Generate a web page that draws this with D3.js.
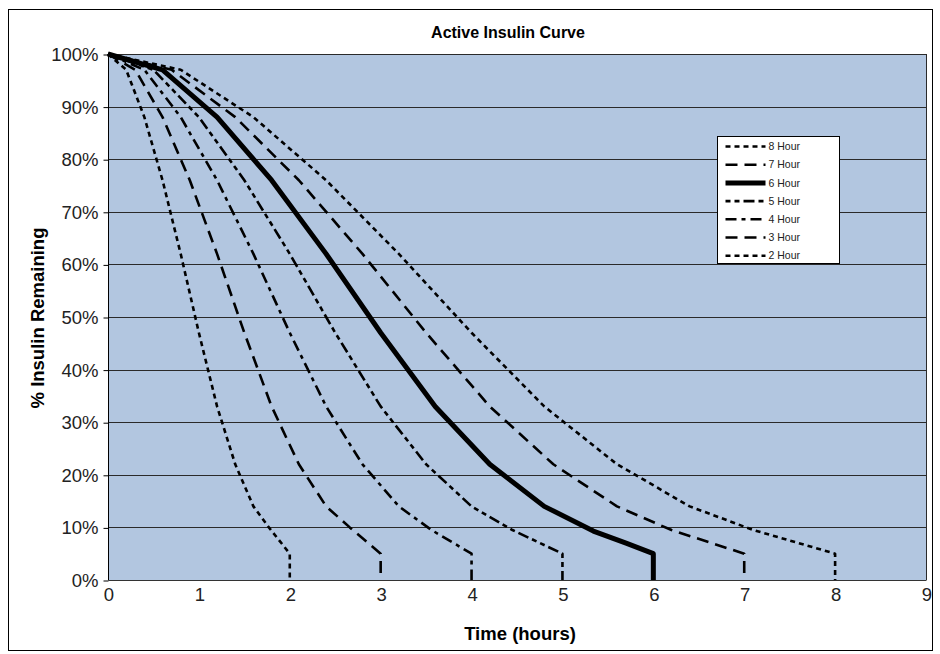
<!DOCTYPE html>
<html>
<head>
<meta charset="utf-8">
<script src="https://cdn.jsdelivr.net/npm/d3@7"></script>
<style>
  body { margin: 0; background: #fff; }
  svg { font-family: "Liberation Sans", Arial, sans-serif; }
</style>
</head>
<body>
<div id="chart"></div>
<script>
// curve points: [hours, % remaining]
const curve8 = [[0,100],[0.8,97],[1.6,88],[2.4,76],[3.2,62],[4.0,47],[4.8,33],[5.6,22],[6.4,14],[7.1,9.5],[8,5],[8,0]];
const curve7 = [[0,100],[0.7,97],[1.4,88],[2.1,76],[2.8,62],[3.5,47],[4.2,33],[4.9,22],[5.6,14],[6.2,9.5],[7,5],[7,0]];
const curve6 = [[0,100],[0.6,97],[1.2,88],[1.8,76],[2.4,62],[3.0,47],[3.6,33],[4.2,22],[4.8,14],[5.34,9.3],[5.7,7],[6,5],[6,0]];
const curve5 = [[0,100],[0.5,97],[1.0,88],[1.5,76],[2.0,62],[2.5,47],[3.0,33],[3.5,22],[4.0,14],[4.45,9.5],[5,5],[5,0]];
const curve4 = [[0,100],[0.4,97],[0.8,88],[1.2,76],[1.6,62],[2.0,47],[2.4,33],[2.8,22],[3.2,14],[3.56,9.5],[4,5],[4,0]];
const curve3 = [[0,100],[0.3,97],[0.6,88],[0.9,76],[1.2,62],[1.5,47],[1.8,33],[2.1,22],[2.4,14],[2.66,10],[3,5],[3,0]];
const curve2 = [[0,100],[0.2,97],[0.4,88],[0.6,76],[0.8,62],[1.0,47],[1.2,33],[1.4,22],[1.6,14],[1.77,10],[2,5],[2,0]];

const seriesNames = ["8 Hour", "7 Hour", "6 Hour", "5 Hour", "4 Hour", "3 Hour", "2 Hour"];
const seriesData = [curve8, curve7, curve6, curve5, curve4, curve3, curve2];
const seriesDash = ["5,4", "12,7", null, "5,4,5,4,11,4", "11,5,4,5", "12,7", "5,4"];
const seriesWidth = [2.6, 2.6, 5, 2.6, 2.6, 2.6, 2.6];

const xTicks = [0, 1, 2, 3, 4, 5, 6, 7, 8, 9];
const yTicks = [0, 10, 20, 30, 40, 50, 60, 70, 80, 90, 100];

function draw() {
  const width = 940, height = 654;
  const plot = { left: 108, right: 926, top: 54, bottom: 580 };

  const svg = d3.select("#chart").append("svg")
    .attr("width", width)
    .attr("height", height);

  // outer frame
  svg.append("rect")
    .attr("x", 8.5).attr("y", 9.5)
    .attr("width", 924).attr("height", 641)
    .attr("fill", "#fff")
    .attr("stroke", "#000")
    .attr("stroke-width", 1);

  const x = d3.scaleLinear().domain([0, 9]).range([plot.left, plot.right]);
  const y = d3.scaleLinear().domain([0, 100]).range([plot.bottom, plot.top]);

  svg.append("rect")
    .attr("x", plot.left).attr("y", plot.top)
    .attr("width", plot.right - plot.left)
    .attr("height", plot.bottom - plot.top)
    .attr("fill", "#b2c6e0");

  // horizontal gridlines
  svg.append("g").selectAll("line")
    .data(yTicks.filter(d => d > 0))
    .join("line")
    .attr("x1", plot.left).attr("x2", plot.right)
    .attr("y1", d => Math.round(y(d)) + 0.5)
    .attr("y2", d => Math.round(y(d)) + 0.5)
    .attr("stroke", "#2a2a2a")
    .attr("stroke-width", 1);

  // right border of the plot
  svg.append("line")
    .attr("x1", plot.right + 0.5).attr("x2", plot.right + 0.5)
    .attr("y1", plot.top).attr("y2", plot.bottom)
    .attr("stroke", "#2a2a2a");

  // y axis
  const yAxis = d3.axisLeft(y)
    .tickValues(yTicks)
    .tickSize(5)
    .tickPadding(5)
    .tickFormat(d => d + "%");
  const yg = svg.append("g")
    .attr("transform", `translate(${plot.left + 0.5},0.5)`)
    .call(yAxis);
  yg.select(".domain").attr("stroke", "#000").attr("d", `M0,${plot.top}V${plot.bottom}`);
  yg.selectAll("line").attr("stroke", "#000");
  yg.selectAll("text").attr("font-size", 18.5).attr("fill", "#222")
    .attr("font-family", "'Liberation Sans', Arial, sans-serif");

  // x axis
  const xAxis = d3.axisBottom(x)
    .tickValues(xTicks)
    .tickSize(0)
    .tickPadding(7);
  const xg = svg.append("g")
    .attr("transform", `translate(0.5,${plot.bottom + 0.5})`)
    .call(xAxis);
  xg.select(".domain").attr("stroke", "#333").attr("d", `M${plot.left},0H${plot.right}`);
  xg.selectAll("text").attr("font-size", 18.5).attr("fill", "#222")
    .attr("font-family", "'Liberation Sans', Arial, sans-serif");

  // curves
  const line = d3.line().x(d => x(d[0])).y(d => y(d[1]));
  svg.append("g").selectAll("path")
    .data(seriesData)
    .join("path")
    .attr("d", line)
    .attr("fill", "none")
    .attr("stroke", "#000")
    .attr("stroke-width", (d, i) => seriesWidth[i])
    .attr("stroke-dasharray", (d, i) => seriesDash[i])
    .attr("stroke-linejoin", "round");

  // titles
  svg.append("text")
    .attr("x", 508).attr("y", 38)
    .attr("text-anchor", "middle")
    .attr("font-size", 16).attr("font-weight", "bold")
    .text("Active Insulin Curve");

  svg.append("text")
    .attr("x", 520).attr("y", 640)
    .attr("text-anchor", "middle")
    .attr("font-size", 18.5).attr("font-weight", "bold")
    .text("Time (hours)");

  svg.append("text")
    .attr("transform", "translate(44,318) rotate(-90)")
    .attr("text-anchor", "middle")
    .attr("font-size", 18.5).attr("font-weight", "bold")
    .text("% Insulin Remaining");

  // legend
  const legend = svg.append("g").attr("transform", "translate(717.5,136.5)");
  legend.append("rect")
    .attr("width", 122).attr("height", 127)
    .attr("fill", "#fff").attr("stroke", "#000");
  const item = legend.selectAll("g.item")
    .data(seriesNames)
    .join("g")
    .attr("class", "item")
    .attr("transform", (d, i) => `translate(0,${10 + i * 18.2})`);
  item.append("line")
    .attr("x1", 8).attr("x2", 48)
    .attr("stroke", "#000")
    .attr("stroke-width", (d, i) => seriesWidth[i])
    .attr("stroke-dasharray", (d, i) => seriesDash[i]);
  item.append("text")
    .attr("x", 51).attr("dy", "0.35em")
    .attr("font-size", 10.5).attr("fill", "#222")
    .text(d => d);
}

window.onload = draw;
</script>
</body>
</html>
